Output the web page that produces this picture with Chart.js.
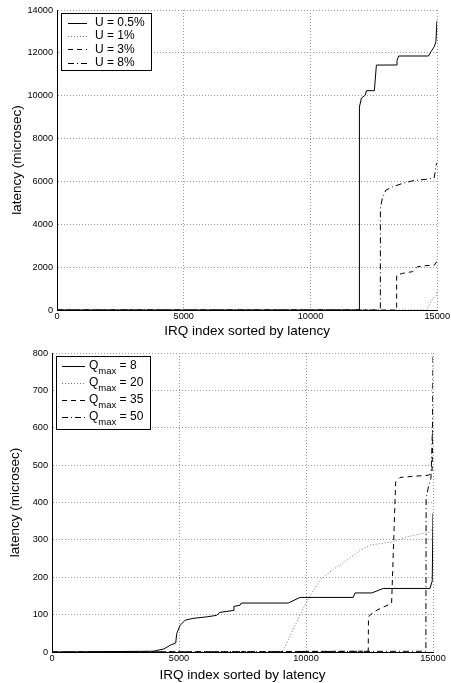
<!DOCTYPE html>
<html>
<head>
<meta charset="utf-8">
<script src="https://cdn.jsdelivr.net/npm/chart.js@4/dist/chart.umd.min.js"></script>
<style>
  html, body { margin: 0; padding: 0; background: #fff; }
  canvas { display: block; }
</style>
</head>
<body>
<canvas id="topChart" width="451" height="340"></canvas>
<canvas id="bottomChart" width="451" height="343"></canvas>
<script>
var FONT = '"Liberation Sans", Arial, Helvetica, sans-serif';

// upper plot: latency for different utilisation U
var uLabels = ['U = 0.5%', 'U = 1%', 'U = 3%', 'U = 8%'];
var u05X = [0, 11930, 11930, 12010, 12165, 12205, 12520, 12600, 13374, 13413, 13476, 14657, 14752, 14882, 14949, 14988, 15000];
var u05Y = [0, 0, 9470, 9890, 10030, 10235, 10235, 11430, 11433, 11633, 11853, 11853, 12053, 12287, 12520, 13453, 13500];
var u1X = [0, 14600, 14750, 14880, 14970, 15000];
var u1Y = [0, 0, 390, 620, 700, 900];
var u3X = [0, 13398, 13400, 13634, 14028, 14225, 14555, 14882, 14973, 15000];
var u3Y = [0, 0, 1630, 1710, 1790, 2020, 2070, 2090, 2240, 2300];
var u8X = [0, 12756, 12758, 12847, 12980, 13240, 13634, 14028, 14555, 14882, 14973, 15000];
var u8Y = [0, 0, 4750, 5290, 5600, 5750, 5910, 6030, 6100, 6170, 6840, 6880];

// lower plot: latency for different Qmax
var qLabels = ['Q_max = 8', 'Q_max = 20', 'Q_max = 35', 'Q_max = 50'];
var q8X = [0, 3980, 4400, 4650, 4870, 4910, 5040, 5240, 5550, 6090, 6480, 6610, 7130, 7160, 7400, 7450, 9300, 9760, 11860, 11930, 12590, 13040, 14880, 14970, 15000];
var q8Y = [0, 2, 8, 18, 24, 49, 71, 85, 90, 94, 98, 106, 111, 122, 125, 131, 131, 146, 146, 158, 158, 170, 170, 190, 371];
var q20X = [0, 8980, 9110, 9630, 10030, 10550, 11080, 11340, 12130, 12520, 13440, 13960, 14880, 15000];
var q20Y = [0, 0, 5, 80, 135, 192, 222, 232, 272, 286, 295, 308, 321, 330];
var q35X = [0, 12450, 12460, 12650, 13040, 13370, 13530, 13700, 14220, 14820, 14960, 15000];
var q35Y = [0, 2, 94, 107, 120, 130, 455, 467, 470, 473, 480, 600];
var q50X = [0, 14720, 14730, 14820, 14920, 14980, 15000];
var q50Y = [0, 2, 412, 442, 465, 600, 790];

var xTicks = [0, 5000, 10000, 15000];

function pts(xs, ys) {
  var out = [];
  for (var i = 0; i < xs.length; i++) out.push({x: xs[i], y: ys[i]});
  return out;
}

var styles = [
  {color: '#000', dash: []},
  {color: '#777', dash: [1, 2]},
  {color: '#000', dash: [5, 4]},
  {color: '#000', dash: [6, 3, 1, 3]}
];

function makeSets(labels, series) {
  return series.map(function(s, i) {
    return {
      label: labels[i],
      data: pts(s[0], s[1]),
      borderColor: styles[i].color,
      borderDash: styles[i].dash,
      borderWidth: 1,
      pointRadius: 0,
      tension: 0,
      fill: false
    };
  });
}

// legend drawn inside the plot, with a frame, like the original
var boxLegend = {
  id: 'boxLegend',
  afterDraw: function(chart, args, o) {
    var ctx = chart.ctx;
    ctx.save();
    ctx.fillStyle = '#fff';
    ctx.fillRect(o.x, o.y, o.w, o.h);
    ctx.strokeStyle = '#000';
    ctx.lineWidth = 1;
    ctx.strokeRect(o.x + 0.5, o.y + 0.5, o.w, o.h);
    chart.data.datasets.forEach(function(ds, i) {
      var cy = o.row0 + i * o.rowH;
      var ly = Math.round(cy) + 0.5;
      ctx.setLineDash(ds.borderDash || []);
      ctx.strokeStyle = ds.borderColor;
      ctx.beginPath();
      ctx.moveTo(o.lineX0, ly);
      ctx.lineTo(o.lineX1, ly);
      ctx.stroke();
      ctx.setLineDash([]);
      ctx.fillStyle = '#000';
      ctx.textBaseline = 'middle';
      ctx.textAlign = 'left';
      ctx.font = '12px ' + FONT;
      var m = /^(\w)_(\w+)(.*)$/.exec(ds.label);
      if (m) {
        var x = o.textX;
        ctx.fillText(m[1], x, cy);
        x += ctx.measureText(m[1]).width;
        ctx.font = '9.5px ' + FONT;
        ctx.fillText(m[2], x, cy + 6);
        x += ctx.measureText(m[2]).width;
        ctx.font = '12px ' + FONT;
        ctx.fillText(m[3], x, cy);
      } else {
        ctx.fillText(ds.label, o.textX, cy);
      }
    });
    ctx.restore();
  }
};

function makeOptions(yMax, yStep, yWidth, xHeight, yTitlePad, xTitlePad, pad, legendBox) {
  return {
    responsive: false,
    animation: false,
    layout: {padding: pad},
    plugins: {legend: {display: false}, tooltip: {enabled: false}, boxLegend: legendBox},
    scales: {
      x: {
        type: 'linear', min: 0, max: 15000,
        afterBuildTicks: function(s) { s.ticks = xTicks.map(function(v) { return {value: v}; }); },
        ticks: {padding: 1, maxRotation: 0, color: '#000', font: {family: FONT, size: 9.2},
                callback: function(v) { return String(v); }},
        grid: {color: '#999', drawTicks: false, lineWidth: 1},
        border: {display: true, color: '#000', width: 1, dash: [1, 2]},
        title: {display: true, text: 'IRQ index sorted by latency', color: '#000',
                font: {family: FONT, size: 13.5}, padding: {top: 0, bottom: xTitlePad}},
        afterFit: function(s) { s.height = xHeight; }
      },
      y: {
        type: 'linear', min: 0, max: yMax,
        ticks: {stepSize: yStep, padding: 4, color: '#000', font: {family: FONT, size: 9.2},
                callback: function(v) { return String(v); }},
        grid: {color: '#999', drawTicks: false, lineWidth: 1},
        border: {display: true, color: '#000', width: 1, dash: [1, 2]},
        title: {display: true, text: 'latency (microsec)', color: '#000',
                font: {family: FONT, size: 13.5}, padding: {top: yTitlePad, bottom: 0}},
        afterFit: function(s) { s.width = yWidth; }
      }
    }
  };
}

new Chart(document.getElementById('topChart'), {
  type: 'line',
  data: {datasets: makeSets(uLabels, [[u05X, u05Y], [u1X, u1Y], [u3X, u3Y], [u8X, u8Y]])},
  options: makeOptions(14000, 2000, 57, 30, 9, 1, {left: 0, right: 13, top: 10, bottom: 0},
    {x: 61, y: 13, w: 90, h: 57, row0: 22.8, rowH: 13.3, lineX0: 68, lineX1: 87, textX: 95}),
  plugins: [boxLegend]
});

new Chart(document.getElementById('bottomChart'), {
  type: 'line',
  data: {datasets: makeSets(qLabels, [[q8X, q8Y], [q20X, q20Y], [q35X, q35Y], [q50X, q50Y]])},
  options: makeOptions(800, 100, 52, 31, 7, 0, {left: 0, right: 18, top: 13, bottom: 0},
    {x: 56, y: 16, w: 94, h: 73, row0: 25.5, rowH: 17, lineX0: 62, lineX1: 85, textX: 89}),
  plugins: [boxLegend]
});
</script>
</body>
</html>
